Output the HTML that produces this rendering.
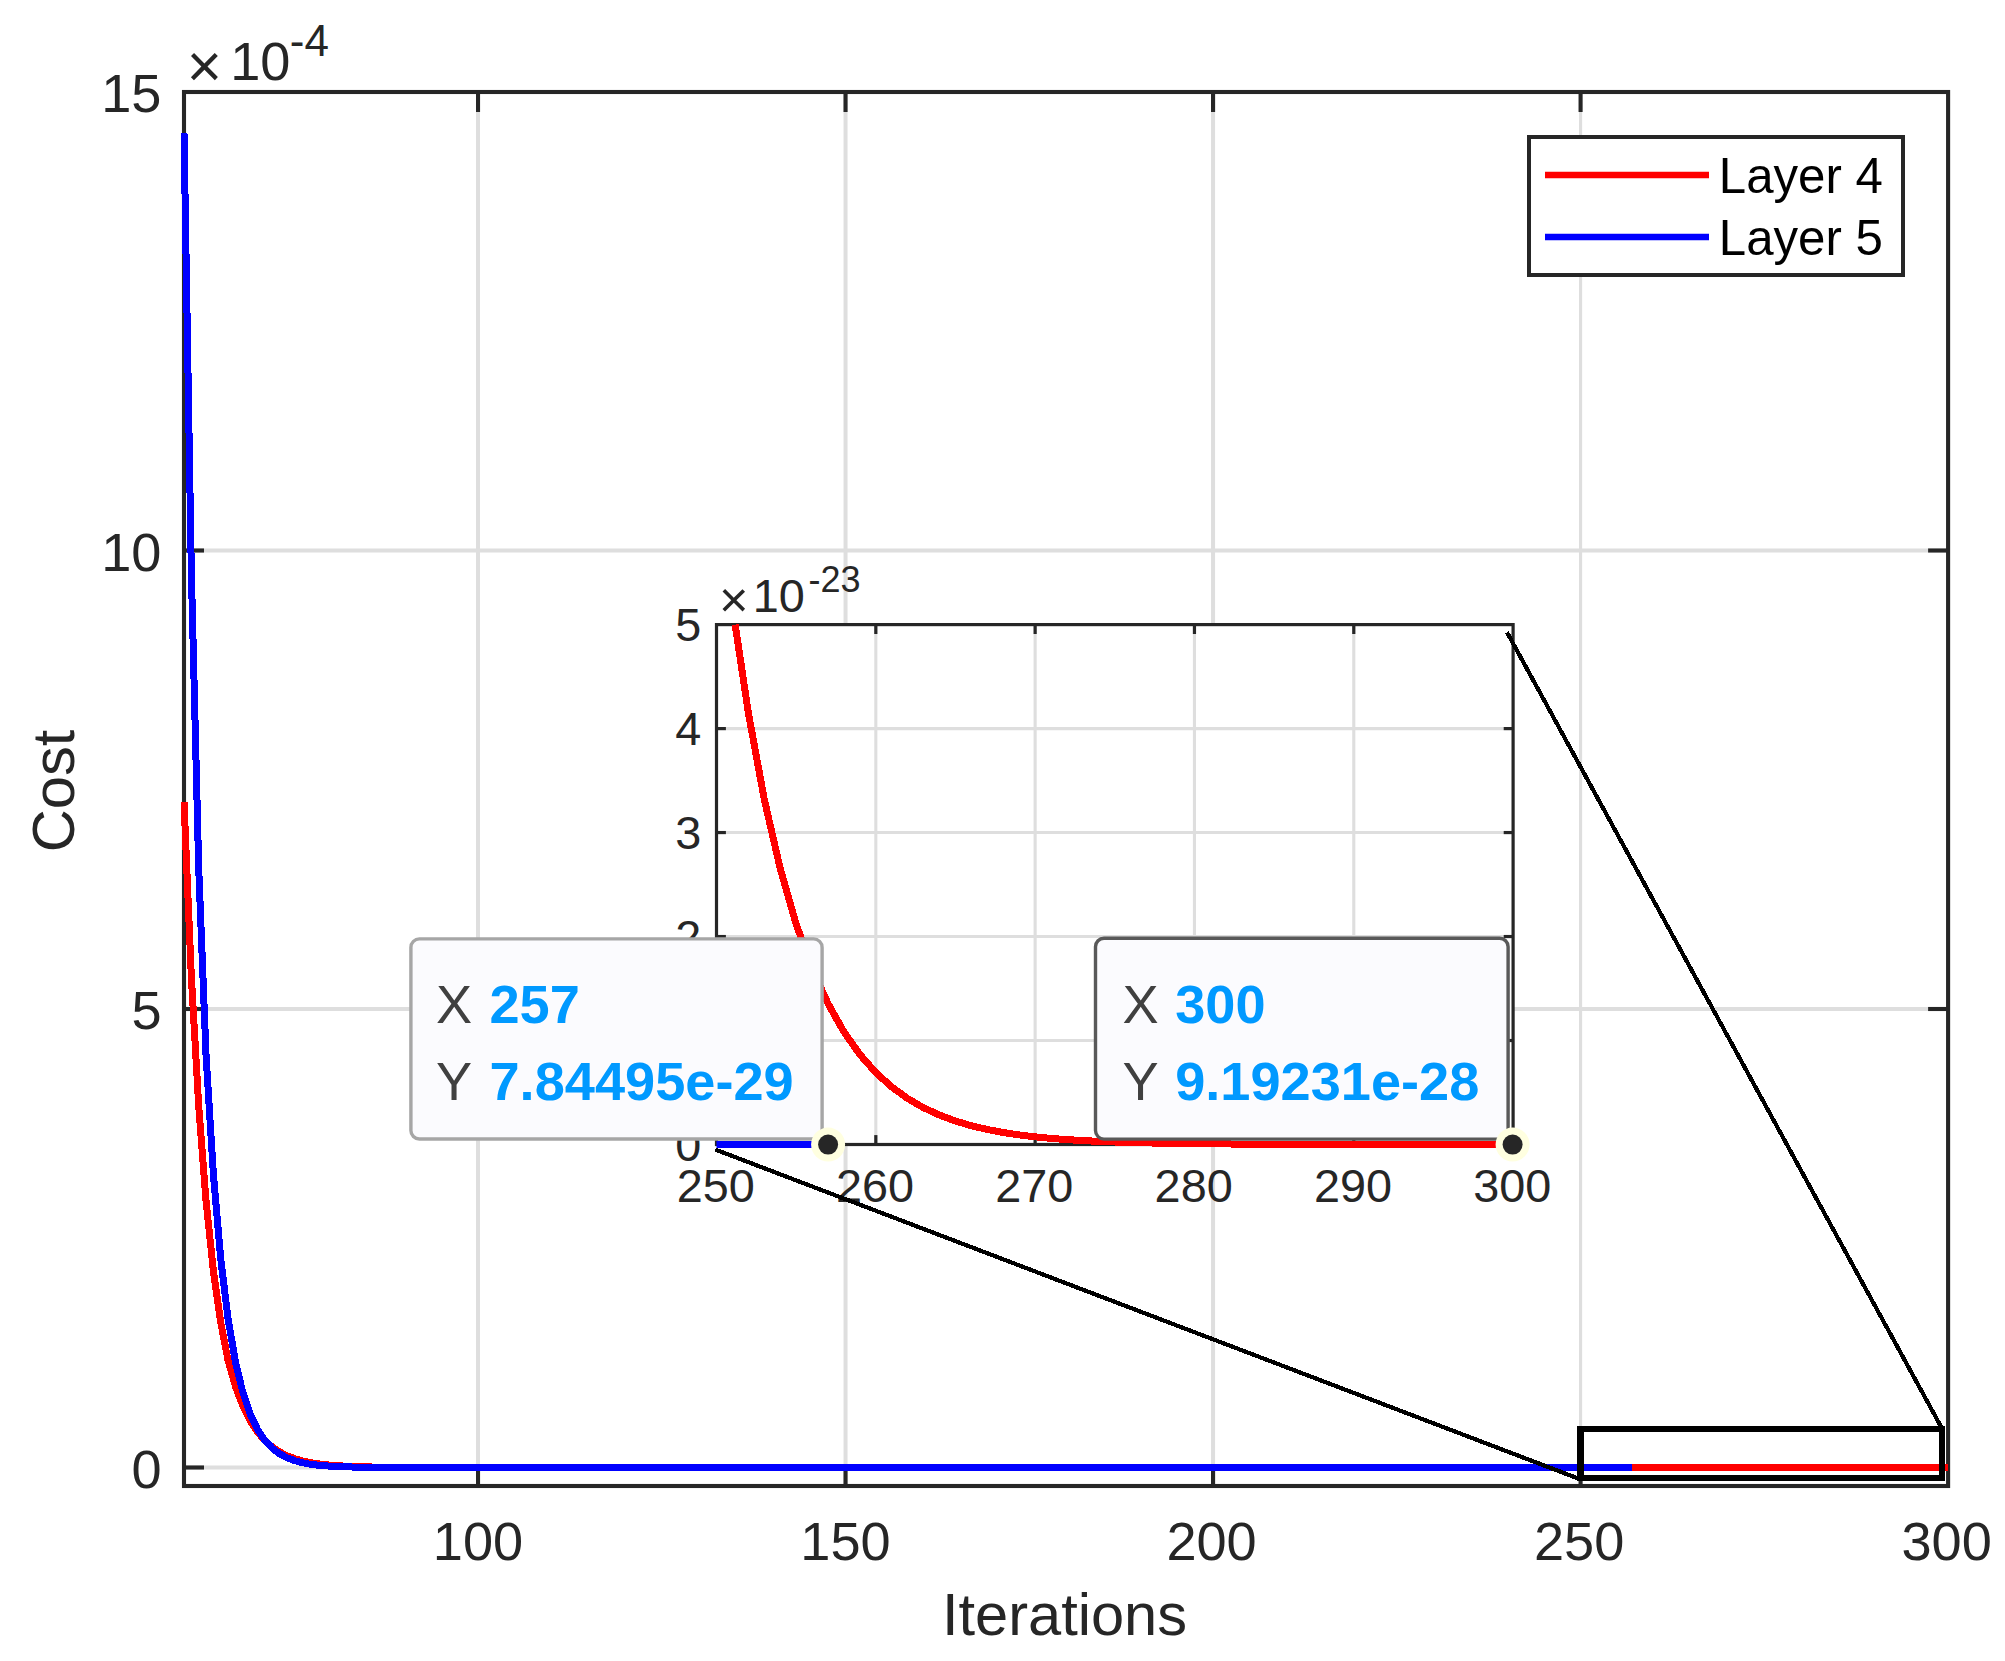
<!DOCTYPE html>
<html lang="en">
<head>
<meta charset="utf-8">
<title>Cost vs Iterations</title>
<style>
html,body{margin:0;padding:0;background:#fff;}
body{width:2005px;height:1661px;overflow:hidden;}
svg{display:block;}
</style>
</head>
<body>
<svg width="2005" height="1661" viewBox="0 0 2005 1661" font-family='"Liberation Sans", sans-serif'>
<rect x="0" y="0" width="2005" height="1661" fill="#ffffff"/>
<g stroke="#dedede" stroke-width="4.0" fill="none">
<line x1="478.02" y1="92.0" x2="478.02" y2="1486.0"/>
<line x1="845.54" y1="92.0" x2="845.54" y2="1486.0"/>
<line x1="1213.06" y1="92.0" x2="1213.06" y2="1486.0"/>
<line x1="1580.58" y1="92.0" x2="1580.58" y2="1486.0" stroke-width="3.1"/>
<line x1="184.0" y1="1467.50" x2="1948.1" y2="1467.50"/>
<line x1="184.0" y1="1009.00" x2="1948.1" y2="1009.00"/>
<line x1="184.0" y1="550.50" x2="1948.1" y2="550.50"/>
</g>
<g stroke="#262626" stroke-width="4.1" fill="none" stroke-linecap="butt">
<rect x="184.0" y="92.0" width="1764.10" height="1394.00"/>
<line x1="478.02" y1="1486.0" x2="478.02" y2="1466.00"/>
<line x1="478.02" y1="92.0" x2="478.02" y2="112.00"/>
<line x1="845.54" y1="1486.0" x2="845.54" y2="1466.00"/>
<line x1="845.54" y1="92.0" x2="845.54" y2="112.00"/>
<line x1="1213.06" y1="1486.0" x2="1213.06" y2="1466.00"/>
<line x1="1213.06" y1="92.0" x2="1213.06" y2="112.00"/>
<line x1="1580.58" y1="1486.0" x2="1580.58" y2="1466.00"/>
<line x1="1580.58" y1="92.0" x2="1580.58" y2="112.00"/>
<line x1="184.0" y1="1467.50" x2="204.00" y2="1467.50"/>
<line x1="1948.1" y1="1467.50" x2="1928.10" y2="1467.50"/>
<line x1="184.0" y1="1009.00" x2="204.00" y2="1009.00"/>
<line x1="1948.1" y1="1009.00" x2="1928.10" y2="1009.00"/>
<line x1="184.0" y1="550.50" x2="204.00" y2="550.50"/>
<line x1="1948.1" y1="550.50" x2="1928.10" y2="550.50"/>
</g>
<polyline points="184.00,802.01 191.35,976.95 198.70,1105.91 206.05,1200.96 213.40,1271.03 220.75,1322.68 228.10,1360.75 235.45,1386.41 242.80,1405.91 250.15,1420.72 257.50,1431.96 264.85,1440.51 272.20,1447.00 279.56,1451.93 286.91,1455.67 294.26,1458.52 301.61,1460.68 308.96,1462.32 316.31,1463.56 323.66,1464.51 331.01,1465.23 338.36,1465.77 345.71,1466.19 353.06,1466.50 360.41,1466.74 367.76,1466.93 375.11,1467.06 382.46,1467.17 389.81,1467.25 397.16,1467.31 404.51,1467.35 411.86,1467.39 419.21,1467.42 426.56,1467.44 433.91,1467.45 441.26,1467.46 448.62,1467.47 455.97,1467.48 463.32,1467.48 470.67,1467.49 478.02,1467.49 485.37,1467.49 492.72,1467.49 500.07,1467.50 507.42,1467.50 514.77,1467.50 522.12,1467.50 529.47,1467.50 536.82,1467.50 544.17,1467.50 551.52,1467.50 558.87,1467.50 566.22,1467.50 573.57,1467.50 580.92,1467.50 588.27,1467.50 595.62,1467.50 602.97,1467.50 610.32,1467.50 617.67,1467.50 625.02,1467.50 632.38,1467.50 639.73,1467.50 647.08,1467.50 654.43,1467.50 661.78,1467.50 669.13,1467.50 676.48,1467.50 683.83,1467.50 691.18,1467.50 698.53,1467.50 705.88,1467.50 713.23,1467.50 720.58,1467.50 727.93,1467.50 735.28,1467.50 742.63,1467.50 749.98,1467.50 757.33,1467.50 764.68,1467.50 772.03,1467.50 779.38,1467.50 786.73,1467.50 794.08,1467.50 801.43,1467.50 808.79,1467.50 816.14,1467.50 823.49,1467.50 830.84,1467.50 838.19,1467.50 845.54,1467.50 852.89,1467.50 860.24,1467.50 867.59,1467.50 874.94,1467.50 882.29,1467.50 889.64,1467.50 896.99,1467.50 904.34,1467.50 911.69,1467.50 919.04,1467.50 926.39,1467.50 933.74,1467.50 941.09,1467.50 948.44,1467.50 955.79,1467.50 963.14,1467.50 970.49,1467.50 977.84,1467.50 985.20,1467.50 992.55,1467.50 999.90,1467.50 1007.25,1467.50 1014.60,1467.50 1021.95,1467.50 1029.30,1467.50 1036.65,1467.50 1044.00,1467.50 1051.35,1467.50 1058.70,1467.50 1066.05,1467.50 1073.40,1467.50 1080.75,1467.50 1088.10,1467.50 1095.45,1467.50 1102.80,1467.50 1110.15,1467.50 1117.50,1467.50 1124.85,1467.50 1132.20,1467.50 1139.55,1467.50 1146.90,1467.50 1154.25,1467.50 1161.61,1467.50 1168.96,1467.50 1176.31,1467.50 1183.66,1467.50 1191.01,1467.50 1198.36,1467.50 1205.71,1467.50 1213.06,1467.50 1220.41,1467.50 1227.76,1467.50 1235.11,1467.50 1242.46,1467.50 1249.81,1467.50 1257.16,1467.50 1264.51,1467.50 1271.86,1467.50 1279.21,1467.50 1286.56,1467.50 1293.91,1467.50 1301.26,1467.50 1308.61,1467.50 1315.96,1467.50 1323.31,1467.50 1330.66,1467.50 1338.02,1467.50 1345.37,1467.50 1352.72,1467.50 1360.07,1467.50 1367.42,1467.50 1374.77,1467.50 1382.12,1467.50 1389.47,1467.50 1396.82,1467.50 1404.17,1467.50 1411.52,1467.50 1418.87,1467.50 1426.22,1467.50 1433.57,1467.50 1440.92,1467.50 1448.27,1467.50 1455.62,1467.50 1462.97,1467.50 1470.32,1467.50 1477.67,1467.50 1485.02,1467.50 1492.37,1467.50 1499.72,1467.50 1507.08,1467.50 1514.43,1467.50 1521.78,1467.50 1529.13,1467.50 1536.48,1467.50 1543.83,1467.50 1551.18,1467.50 1558.53,1467.50 1565.88,1467.50 1573.23,1467.50 1580.58,1467.50 1587.93,1467.50 1595.28,1467.50 1602.63,1467.50 1609.98,1467.50 1617.33,1467.50 1624.68,1467.50 1632.03,1467.50 1639.38,1467.50 1646.73,1467.50 1654.08,1467.50 1661.43,1467.50 1668.78,1467.50 1676.13,1467.50 1683.48,1467.50 1690.84,1467.50 1698.19,1467.50 1705.54,1467.50 1712.89,1467.50 1720.24,1467.50 1727.59,1467.50 1734.94,1467.50 1742.29,1467.50 1749.64,1467.50 1756.99,1467.50 1764.34,1467.50 1771.69,1467.50 1779.04,1467.50 1786.39,1467.50 1793.74,1467.50 1801.09,1467.50 1808.44,1467.50 1815.79,1467.50 1823.14,1467.50 1830.49,1467.50 1837.84,1467.50 1845.19,1467.50 1852.54,1467.50 1859.89,1467.50 1867.25,1467.50 1874.60,1467.50 1881.95,1467.50 1889.30,1467.50 1896.65,1467.50 1904.00,1467.50 1911.35,1467.50 1918.70,1467.50 1926.05,1467.50 1933.40,1467.50 1940.75,1467.50 1948.10,1467.50" fill="none" stroke="#ff0000" stroke-width="7.0" stroke-linejoin="round" shape-rendering="crispEdges"/>
<polyline points="184.00,132.72 191.35,572.77 198.70,867.74 206.05,1055.71 213.40,1174.40 220.75,1258.88 228.10,1319.01 235.45,1361.81 242.80,1392.27 250.15,1413.96 257.50,1429.39 264.85,1440.37 272.20,1448.19 279.56,1453.76 286.91,1457.72 294.26,1460.54 301.61,1462.54 308.96,1463.97 316.31,1464.99 323.66,1465.71 331.01,1466.23 338.36,1466.59 345.71,1466.86 353.06,1467.04 360.41,1467.17 367.76,1467.27 375.11,1467.33 382.46,1467.38 389.81,1467.42 397.16,1467.44 404.51,1467.46 411.86,1467.47 419.21,1467.48 426.56,1467.48 433.91,1467.49 441.26,1467.49 448.62,1467.49 455.97,1467.50 463.32,1467.50 470.67,1467.50 478.02,1467.50 485.37,1467.50 492.72,1467.50 500.07,1467.50 507.42,1467.50 514.77,1467.50 522.12,1467.50 529.47,1467.50 536.82,1467.50 544.17,1467.50 551.52,1467.50 558.87,1467.50 566.22,1467.50 573.57,1467.50 580.92,1467.50 588.27,1467.50 595.62,1467.50 602.97,1467.50 610.32,1467.50 617.67,1467.50 625.02,1467.50 632.38,1467.50 639.73,1467.50 647.08,1467.50 654.43,1467.50 661.78,1467.50 669.13,1467.50 676.48,1467.50 683.83,1467.50 691.18,1467.50 698.53,1467.50 705.88,1467.50 713.23,1467.50 720.58,1467.50 727.93,1467.50 735.28,1467.50 742.63,1467.50 749.98,1467.50 757.33,1467.50 764.68,1467.50 772.03,1467.50 779.38,1467.50 786.73,1467.50 794.08,1467.50 801.43,1467.50 808.79,1467.50 816.14,1467.50 823.49,1467.50 830.84,1467.50 838.19,1467.50 845.54,1467.50 852.89,1467.50 860.24,1467.50 867.59,1467.50 874.94,1467.50 882.29,1467.50 889.64,1467.50 896.99,1467.50 904.34,1467.50 911.69,1467.50 919.04,1467.50 926.39,1467.50 933.74,1467.50 941.09,1467.50 948.44,1467.50 955.79,1467.50 963.14,1467.50 970.49,1467.50 977.84,1467.50 985.20,1467.50 992.55,1467.50 999.90,1467.50 1007.25,1467.50 1014.60,1467.50 1021.95,1467.50 1029.30,1467.50 1036.65,1467.50 1044.00,1467.50 1051.35,1467.50 1058.70,1467.50 1066.05,1467.50 1073.40,1467.50 1080.75,1467.50 1088.10,1467.50 1095.45,1467.50 1102.80,1467.50 1110.15,1467.50 1117.50,1467.50 1124.85,1467.50 1132.20,1467.50 1139.55,1467.50 1146.90,1467.50 1154.25,1467.50 1161.61,1467.50 1168.96,1467.50 1176.31,1467.50 1183.66,1467.50 1191.01,1467.50 1198.36,1467.50 1205.71,1467.50 1213.06,1467.50 1220.41,1467.50 1227.76,1467.50 1235.11,1467.50 1242.46,1467.50 1249.81,1467.50 1257.16,1467.50 1264.51,1467.50 1271.86,1467.50 1279.21,1467.50 1286.56,1467.50 1293.91,1467.50 1301.26,1467.50 1308.61,1467.50 1315.96,1467.50 1323.31,1467.50 1330.66,1467.50 1338.02,1467.50 1345.37,1467.50 1352.72,1467.50 1360.07,1467.50 1367.42,1467.50 1374.77,1467.50 1382.12,1467.50 1389.47,1467.50 1396.82,1467.50 1404.17,1467.50 1411.52,1467.50 1418.87,1467.50 1426.22,1467.50 1433.57,1467.50 1440.92,1467.50 1448.27,1467.50 1455.62,1467.50 1462.97,1467.50 1470.32,1467.50 1477.67,1467.50 1485.02,1467.50 1492.37,1467.50 1499.72,1467.50 1507.08,1467.50 1514.43,1467.50 1521.78,1467.50 1529.13,1467.50 1536.48,1467.50 1543.83,1467.50 1551.18,1467.50 1558.53,1467.50 1565.88,1467.50 1573.23,1467.50 1580.58,1467.50 1587.93,1467.50 1595.28,1467.50 1602.63,1467.50 1609.98,1467.50 1617.33,1467.50 1624.68,1467.50 1632.03,1467.50" fill="none" stroke="#0000ff" stroke-width="7.0" stroke-linejoin="round" shape-rendering="crispEdges"/>
<rect x="1580.4" y="1429.1" width="361.50" height="48.80" fill="none" stroke="#000" stroke-width="6.25" shape-rendering="crispEdges"/>
<rect x="1529.0" y="137.0" width="374.0" height="138.0" fill="#fff" stroke="#262626" stroke-width="4.0"/>
<line x1="1545" y1="175.0" x2="1709" y2="175.0" stroke="#ff0000" stroke-width="6.3"/>
<line x1="1545" y1="237.0" x2="1709" y2="237.0" stroke="#0000ff" stroke-width="6.3"/>
<text x="1718.8" y="192.8" font-size="49.2" fill="#000">Layer 4</text>
<text x="1718.8" y="254.8" font-size="49.2" fill="#000">Layer 5</text>
<g font-size="54.17" fill="#262626">
<text x="478.02" y="1560.4" text-anchor="middle">100</text>
<text x="845.54" y="1560.4" text-anchor="middle">150</text>
<text x="1211.56" y="1560.4" text-anchor="middle">200</text>
<text x="1579.08" y="1560.4" text-anchor="middle">250</text>
<text x="1946.60" y="1560.4" text-anchor="middle">300</text>
<text x="161.5" y="1487.50" text-anchor="end">0</text>
<text x="161.5" y="1029.00" text-anchor="end">5</text>
<text x="161.5" y="570.50" text-anchor="end">10</text>
<text x="161.5" y="112.00" text-anchor="end">15</text>
</g>
<text x="204.5" y="87.05" font-size="60.4" fill="#262626" text-anchor="middle">×</text>
<text x="230.2" y="80.0" font-size="54.17" fill="#262626">10</text>
<text x="289.8" y="56.0" font-size="44" fill="#262626">-4</text>
<text x="1064.5" y="1635.1" font-size="59.6" fill="#262626" text-anchor="middle">Iterations</text>
<text transform="translate(73.6 791) rotate(-90)" font-size="59.6" fill="#262626" text-anchor="middle">Cost</text>
<rect x="716.5" y="624.6" width="796.60" height="519.90" fill="#fff"/>
<g stroke="#dedede" stroke-width="3.1" fill="none">
<line x1="875.82" y1="624.6" x2="875.82" y2="1144.5"/>
<line x1="1035.14" y1="624.6" x2="1035.14" y2="1144.5"/>
<line x1="1194.46" y1="624.6" x2="1194.46" y2="1144.5"/>
<line x1="1353.78" y1="624.6" x2="1353.78" y2="1144.5"/>
<line x1="716.5" y1="1040.52" x2="1513.1" y2="1040.52"/>
<line x1="716.5" y1="936.54" x2="1513.1" y2="936.54"/>
<line x1="716.5" y1="832.56" x2="1513.1" y2="832.56"/>
<line x1="716.5" y1="728.58" x2="1513.1" y2="728.58"/>
</g>
<g stroke="#262626" stroke-width="3.2" fill="none">
<rect x="716.5" y="624.6" width="796.60" height="519.90"/>
<line x1="875.82" y1="1144.5" x2="875.82" y2="1135.10"/>
<line x1="875.82" y1="624.6" x2="875.82" y2="634.00"/>
<line x1="1035.14" y1="1144.5" x2="1035.14" y2="1135.10"/>
<line x1="1035.14" y1="624.6" x2="1035.14" y2="634.00"/>
<line x1="1194.46" y1="1144.5" x2="1194.46" y2="1135.10"/>
<line x1="1194.46" y1="624.6" x2="1194.46" y2="634.00"/>
<line x1="1353.78" y1="1144.5" x2="1353.78" y2="1135.10"/>
<line x1="1353.78" y1="624.6" x2="1353.78" y2="634.00"/>
<line x1="716.5" y1="1040.52" x2="725.90" y2="1040.52"/>
<line x1="1513.1" y1="1040.52" x2="1503.70" y2="1040.52"/>
<line x1="716.5" y1="936.54" x2="725.90" y2="936.54"/>
<line x1="1513.1" y1="936.54" x2="1503.70" y2="936.54"/>
<line x1="716.5" y1="832.56" x2="725.90" y2="832.56"/>
<line x1="1513.1" y1="832.56" x2="1503.70" y2="832.56"/>
<line x1="716.5" y1="728.58" x2="725.90" y2="728.58"/>
<line x1="1513.1" y1="728.58" x2="1503.70" y2="728.58"/>
</g>
<polyline points="735.14,624.60 748.36,712.81 764.30,799.44 780.23,868.69 796.16,924.04 812.09,968.28 828.02,1003.65 843.96,1031.91 859.89,1054.51 875.82,1072.57 891.75,1087.00 907.68,1098.54 923.62,1107.77 939.55,1115.14 955.48,1121.03 971.41,1125.74 987.34,1129.51 1003.28,1132.51 1019.21,1134.92 1035.14,1136.84 1051.07,1138.38 1067.00,1139.61 1082.94,1140.59 1098.87,1141.37 1114.80,1142.00 1130.73,1142.50 1146.66,1142.90 1162.60,1143.22 1178.53,1143.48 1194.46,1143.68 1210.39,1143.85 1226.32,1143.98 1242.26,1144.08 1258.19,1144.17 1274.12,1144.23 1290.05,1144.29 1305.98,1144.33 1321.92,1144.36 1337.85,1144.39 1353.78,1144.41 1369.71,1144.43 1385.64,1144.44 1401.58,1144.46 1417.51,1144.46 1433.44,1144.47 1449.37,1144.48 1465.30,1144.48 1481.24,1144.49 1497.17,1144.49 1513.10,1144.49" fill="none" stroke="#ff0000" stroke-width="7.0" stroke-linejoin="round" shape-rendering="crispEdges"/>
<line x1="716.50" y1="1144.5" x2="828.02" y2="1144.5" stroke="#0000ff" stroke-width="7.0"/>
<g font-size="46.8" fill="#262626">
<text x="715.70" y="1201.6" text-anchor="middle">250</text>
<text x="875.02" y="1201.6" text-anchor="middle">260</text>
<text x="1034.34" y="1201.6" text-anchor="middle">270</text>
<text x="1193.66" y="1201.6" text-anchor="middle">280</text>
<text x="1352.98" y="1201.6" text-anchor="middle">290</text>
<text x="1512.30" y="1201.6" text-anchor="middle">300</text>
<text x="701.2" y="1160.90" text-anchor="end">0</text>
<text x="701.2" y="1056.92" text-anchor="end">1</text>
<text x="701.2" y="952.94" text-anchor="end">2</text>
<text x="701.2" y="848.96" text-anchor="end">3</text>
<text x="701.2" y="744.98" text-anchor="end">4</text>
<text x="701.2" y="641.00" text-anchor="end">5</text>
</g>
<text x="733.8" y="617.4" font-size="50.6" fill="#262626" text-anchor="middle">×</text>
<text x="752.8" y="612.3" font-size="46.8" fill="#262626">10</text>
<text x="808.6" y="592.2" font-size="36.0" fill="#262626">-23</text>
<line x1="715.4" y1="1149.6" x2="1579.0" y2="1478.8" stroke="#000" stroke-width="4.2" shape-rendering="crispEdges"/>
<line x1="1507.0" y1="632.3" x2="1942.3" y2="1429.0" stroke="#000" stroke-width="4.2" shape-rendering="crispEdges"/>
<rect x="410.90" y="938.90" width="411.20" height="200.10" rx="8.5" ry="8.5" fill="#fbfbfe" stroke="#a6a6a6" stroke-width="3.4"/>
<text x="436.00" y="1022.9" font-size="54.17" fill="#404040">X</text>
<text x="436.00" y="1099.6" font-size="54.17" fill="#404040">Y</text>
<text x="489.50" y="1022.9" font-size="54.17" font-weight="bold" fill="#0099ff">257</text>
<text x="489.50" y="1099.6" font-size="54.17" font-weight="bold" fill="#0099ff">7.84495e-29</text>
<rect x="1095.50" y="938.30" width="412.60" height="200.80" rx="8.5" ry="8.5" fill="#fbfbfe" stroke="#595959" stroke-width="3.4"/>
<text x="1122.60" y="1022.9" font-size="54.17" fill="#404040">X</text>
<text x="1122.60" y="1099.6" font-size="54.17" fill="#404040">Y</text>
<text x="1175.20" y="1022.9" font-size="54.17" font-weight="bold" fill="#0099ff">300</text>
<text x="1175.20" y="1099.6" font-size="54.17" font-weight="bold" fill="#0099ff">9.19231e-28</text>
<circle cx="828.1" cy="1144.6" r="17" fill="#ffffe0"/>
<circle cx="828.1" cy="1144.6" r="10" fill="#262626"/>
<circle cx="1512.6" cy="1144.6" r="17" fill="#ffffe0"/>
<circle cx="1512.6" cy="1144.6" r="10" fill="#262626"/>
</svg>
</body>
</html>
